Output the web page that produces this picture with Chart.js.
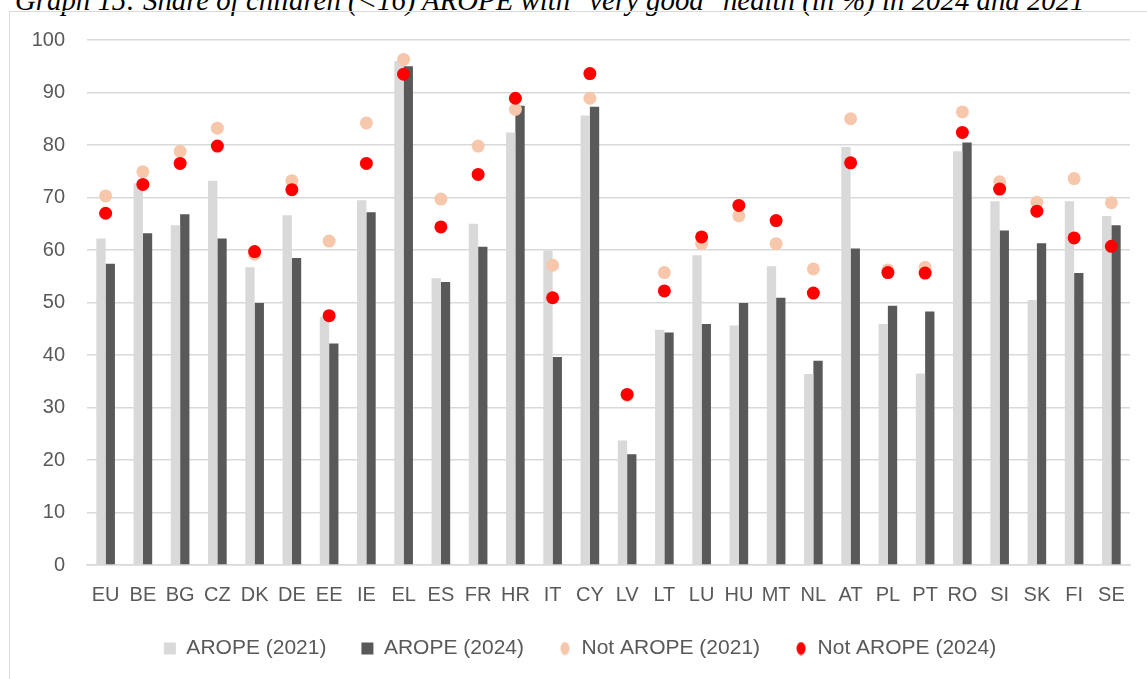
<!DOCTYPE html>
<html>
<head>
<meta charset="utf-8">
<script src="https://cdn.jsdelivr.net/npm/chart.js@4.4.1/dist/chart.umd.min.js"></script>
<style>
  html, body { margin: 0; padding: 0; background: #fff; overflow: hidden; }
  body { width: 1147px; height: 679px; position: relative; }
  #title { position: absolute; left: 15px; top: -14px; white-space: nowrap;
    font-family: "Liberation Serif", "Times New Roman", serif; font-style: italic;
    font-size: 28.8px; line-height: 28px; color: #000; }
  #frame { position: absolute; left: 9px; top: 11px; width: 1160px; height: 700px;
    border: 1.3px solid #d9d9d9; box-sizing: border-box; }
  #wrap { position: absolute; left: 0; top: 0; width: 1147px; height: 679px; }
</style>
</head>
<body>
<div id="title">Graph 15: Share of children (&lt;16) AROPE with "very good" health (in %) in 2024 and 2021</div>
<div id="frame"></div>
<div id="wrap"><canvas id="c"></canvas></div>
<script>
const categories = ["EU","BE","BG","CZ","DK","DE","EE","IE","EL","ES","FR","HR","IT","CY","LV","LT","LU","HU","MT","NL","AT","PL","PT","RO","SI","SK","FI","SE"];
const arope2021 = [62.2,72.7,64.7,73.2,56.7,66.6,47.3,69.5,96.0,54.6,65.0,82.4,59.9,85.6,23.7,44.8,59.0,45.6,56.9,36.4,79.6,45.9,36.5,78.8,69.3,50.5,69.3,66.5];
const arope2024 = [57.4,63.2,66.8,62.2,49.9,58.5,42.2,67.2,95.0,53.9,60.6,87.5,39.6,87.3,21.1,44.3,45.9,49.9,50.9,38.9,60.3,49.4,48.3,80.5,63.7,61.3,55.6,64.7];
const notArope2021 = [70.3,74.9,78.8,83.2,59.2,73.2,61.7,84.2,96.3,69.7,79.8,86.8,57.1,88.9,32.3,55.7,61.2,66.5,61.2,56.4,85.0,56.2,56.7,86.3,73.0,69.1,73.6,69.0];
const notArope2024 = [67.0,72.5,76.5,79.8,59.7,71.5,47.5,76.5,93.5,64.4,74.4,88.9,50.9,93.6,32.5,52.2,62.5,68.5,65.6,51.8,76.6,55.7,55.6,82.4,71.6,67.4,62.3,60.7];
const yTicks = [0,10,20,30,40,50,60,70,80,90,100];
const seriesNames = ["AROPE (2021)","AROPE (2024)","Not AROPE (2021)","Not AROPE (2024)"];

const txt = "#595959";
const font = { family: "'Liberation Sans', Arial, sans-serif", size: 20 };
const legendFont = { family: "'Liberation Sans', Arial, sans-serif", size: 21 };

function ellipseIcon(color) {
  const cv = document.createElement("canvas");
  cv.width = 10; cv.height = 14;
  const g = cv.getContext("2d");
  g.fillStyle = color;
  g.beginPath(); g.ellipse(5, 7, 4.5, 6.5, 0, 0, Math.PI * 2); g.fill();
  return cv;
}
const legendIcons = [null, null, ellipseIcon("#f7c7ac"), ellipseIcon("#ff0000")];

new Chart(document.getElementById("c"), {
  data: {
    labels: categories,
    datasets: [
      { type: "bar", label: seriesNames[0], data: arope2021, backgroundColor: "#d9d9d9",
        categoryPercentage: 0.5, barPercentage: 1.0, order: 3, pointStyle: "rect" },
      { type: "bar", label: seriesNames[1], data: arope2024, backgroundColor: "#595959",
        categoryPercentage: 0.5, barPercentage: 1.0, order: 3, pointStyle: "rect" },
      { type: "line", label: seriesNames[2], data: notArope2021, showLine: false,
        pointRadius: 6.5, pointBorderWidth: 0, backgroundColor: "#f7c7ac", borderColor: "#f7c7ac",
        pointBackgroundColor: "#f7c7ac", order: 2, pointStyle: "circle" },
      { type: "line", label: seriesNames[3], data: notArope2024, showLine: false,
        pointRadius: 6.5, pointBorderWidth: 0, backgroundColor: "#ff0000", borderColor: "#ff0000",
        pointBackgroundColor: "#ff0000", order: 1, pointStyle: "circle" }
    ]
  },
  options: {
    responsive: true, maintainAspectRatio: false, animation: false,
    layout: { padding: { left: 30, right: 17, top: 40, bottom: 10 } },
    plugins: {
      tooltip: { enabled: false },
      legend: {
        position: "bottom",
        labels: {
          color: txt, font: legendFont, usePointStyle: true, boxHeight: 12, pointStyleWidth: 12,
          padding: 35,
          sort: (a, b) => a.datasetIndex - b.datasetIndex,
          generateLabels: (chart) => {
            const items = Chart.defaults.plugins.legend.labels.generateLabels(chart);
            items.forEach(it => {
              const ic = legendIcons[it.datasetIndex];
              if (ic) it.pointStyle = ic;
              it.lineWidth = 0;
            });
            return items;
          }
        }
      }
    },
    scales: {
      x: {
        grid: { display: false },
        border: { display: true, color: "#d9d9d9", width: 1.5 },
        ticks: { color: txt, font: font, padding: 10, maxRotation: 0, autoSkip: false },
        afterFit: s => { s.height = 38; }
      },
      y: {
        min: 0, max: 100,
        afterBuildTicks: s => { s.ticks = yTicks.map(v => ({ value: v })); },
        afterFit: s => { s.width = 57; },
        grid: { color: "#d9d9d9", lineWidth: 1.5, drawTicks: false },
        border: { display: false },
        ticks: { color: txt, font: font, padding: 22 }
      }
    }
  }
});
</script>
</body>
</html>
